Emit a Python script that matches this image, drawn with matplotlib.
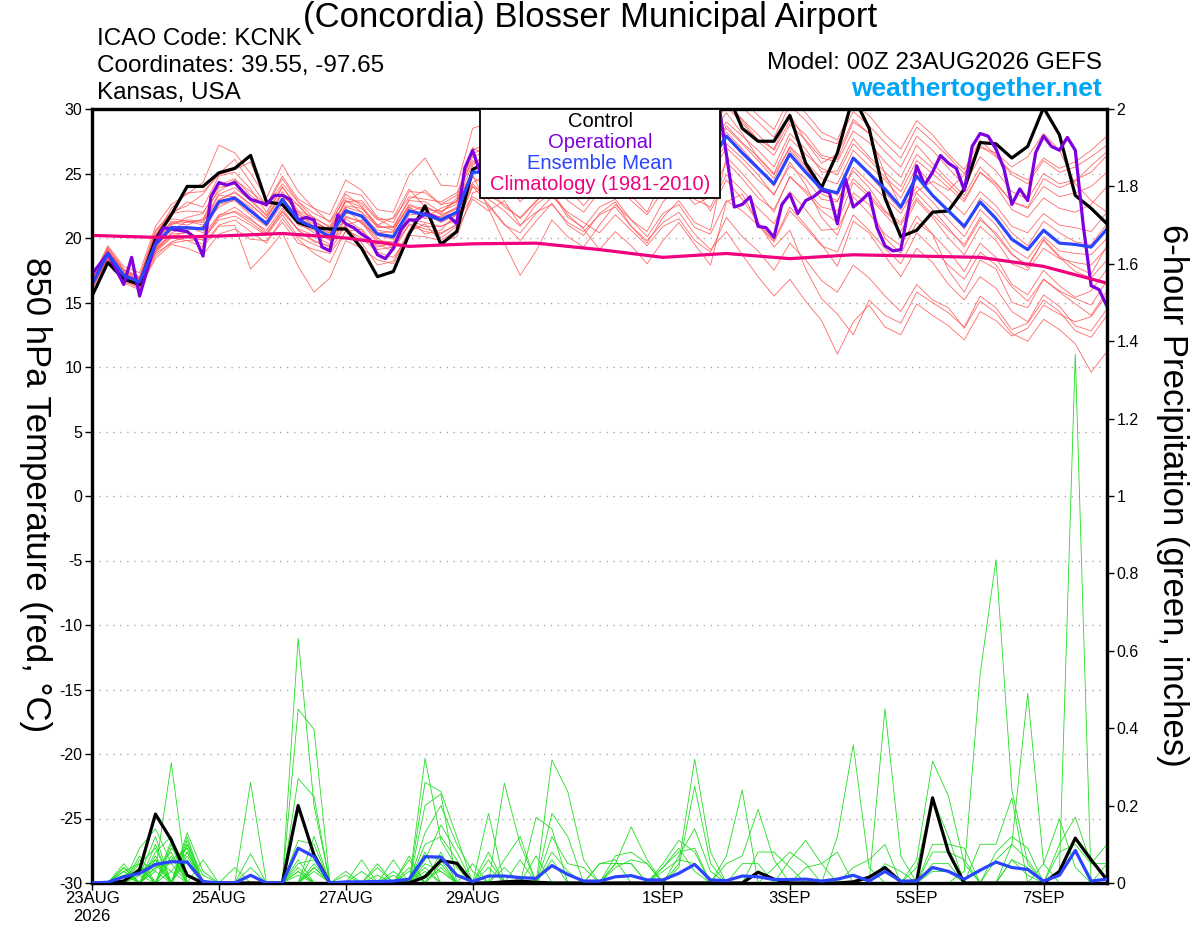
import matplotlib
matplotlib.use("Agg")
import matplotlib.pyplot as plt
from matplotlib.patches import Rectangle
import numpy as np

plt.rcParams['font.family'] = ['Liberation Sans', 'DejaVu Sans']
plt.rcParams['axes.unicode_minus'] = False

# ---- axis labels / ticks ----
tick_pos = [0, 8, 16, 24, 36, 44, 52, 60]
tick_lab = ["23AUG\n2026", "25AUG", "27AUG", "29AUG", "1SEP", "3SEP", "5SEP", "7SEP"]

# ---- 850 hPa temperature (6-hourly, 65 steps) ----
control_t = [15.5, 18.1, 16.8, 16.4, 19.9, 21.8, 24.0, 24.0, 25.05, 25.4, 26.4, 22.8, 22.6,
             21.2, 20.8, 20.7, 20.7, 19.2, 17.0, 17.4, 20.3, 22.5, 19.5, 20.5, 25.3,
             26.0, 27.2, 28.1, 27.5, 28.8, 29.6, 28.4, 27.9, 29.3, 30.5, 29.8, 28.9, 30.7, 31.5, 30.8,
             31.4, 28.5, 27.5, 27.5, 29.5, 25.8, 23.9, 26.6, 31.0, 28.5, 23.1, 20.1, 20.6, 22.0,
             22.1, 23.8, 27.4, 27.3, 26.2, 27.1, 30.1, 28.0, 23.3, 22.3, 21.1]
mean_t = [16.4, 18.8, 17.1, 16.6, 19.5, 20.8, 20.8, 20.7, 22.8, 23.1, 22.1, 21.1, 23.0,
          21.4, 20.8, 20.1, 22.1, 21.7, 20.3, 20.1, 22.1, 21.8, 21.4, 22.0, 25.1,
          25.1, 25.3, 24.6, 25.8, 26.4, 25.5, 25.0, 26.2, 26.8, 26.0, 25.4, 26.9, 27.5, 26.3, 25.9,
          27.9, 26.6, 25.4, 24.2, 26.5, 25.1, 23.8, 23.5, 26.2, 25.0, 23.8, 22.4, 24.8, 23.3,
          22.1, 20.9, 22.8, 21.5, 19.9, 19.1, 20.6, 19.6, 19.5, 19.3, 20.7]
# operational run is 3-hourly (129 steps)
oper_t = [17.2, 18.0, 18.8, 17.6, 16.4, 18.5, 15.5, 17.6, 19.6, 20.8,
          20.7, 20.6, 20.5, 20.0, 18.6, 23.2, 24.3, 24.1, 24.3, 23.6,
          23.0, 22.8, 22.6, 23.3, 23.3, 23.0, 21.4, 21.6, 21.4, 19.3,
          19.0, 21.8, 21.1, 20.8, 20.3, 19.9, 18.7, 18.4, 19.2, 20.7,
          21.4, 21.4, 21.9, 21.7, 21.4, 21.7, 21.1, 25.4, 26.8, 25.0,
          25.6, 26.3, 25.9, 26.8, 27.4, 26.5, 27.8, 28.3, 27.6, 28.9,
          28.1, 27.3, 28.0, 28.6, 27.9, 28.8, 29.4, 28.7, 29.1, 28.2,
          29.0, 29.8, 30.4, 29.6, 28.9, 29.3, 28.5, 29.1, 29.8, 30.5,
          26.5, 22.4, 22.6, 23.2, 20.9, 20.8, 20.05, 22.6, 23.4, 21.9,
          22.9, 23.2, 23.7, 23.5, 21.1, 24.6, 22.4, 22.9, 23.5, 20.8,
          19.4, 19.0, 19.1, 22.4, 25.6, 24.1, 25.1, 26.4, 25.8, 25.4,
          23.7, 27.1, 28.1, 27.9, 26.9, 25.4, 22.6, 23.8, 22.9, 26.6,
          27.9, 27.1, 26.8, 27.8, 26.8, 21.0, 16.3, 16.0, 14.7]
# climatology, one value per day
clim_days = [0, 4, 8, 12, 16, 20, 24, 28, 32, 36, 40, 44, 48, 52, 56, 60, 64]
clim_t = [20.2, 20.05, 20.15, 20.35, 20.0, 19.35, 19.55, 19.6, 19.1, 18.5, 18.8, 18.4,
          18.7, 18.6, 18.5, 17.8, 16.5]

t_m01 = [16.8, 19.2, 17.5, 16.9, 20.6, 22.0, 22.5, 23.4, 25.0, 26.1, 24.3,
         22.5, 24.6, 22.8, 21.5, 20.9, 23.4, 22.5, 21.0, 21.6, 23.8, 22.4, 21.9, 23.1,
         27.0, 26.2, 24.5, 22.8, 24.1, 25.7, 23.9, 22.5, 24.0, 25.1, 23.3, 22.0, 24.6, 25.0, 23.8, 22.1,
         24.5, 23.0, 21.2, 19.8, 22.4, 21.0, 19.5, 17.8, 21.3, 20.4, 18.6, 17.0, 19.2, 18.1, 16.4,
         15.2, 17.0, 16.1, 14.3, 13.5, 15.6, 14.7, 13.2, 12.8, 14.5]
t_m02 = [16.2, 18.5, 16.8, 16.3, 19.0, 20.1, 20.5, 19.8, 21.7, 22.4, 21.5,
         20.4, 22.1, 20.6, 19.7, 19.4, 21.5, 20.6, 19.1, 19.3, 21.0, 20.5, 20.3, 21.1,
         24.0, 22.6, 21.1, 19.8, 21.3, 22.7, 21.0, 20.2, 21.9, 22.8, 20.9, 19.6, 21.6, 22.9, 21.2, 20.6,
         26.3, 25.0, 23.6, 22.0, 24.8, 23.5, 22.1, 21.2, 24.3, 23.2, 21.8, 20.5, 22.9, 21.6, 20.0,
         18.7, 20.9, 19.8, 18.0, 17.5, 19.2, 18.4, 18.1, 17.9, 19.3]
t_m03 = [16.6, 19.0, 17.3, 16.7, 19.8, 21.2, 21.0, 21.5, 23.9, 24.2, 23.0,
         21.8, 23.9, 22.5, 21.3, 20.6, 22.8, 22.9, 21.5, 20.8, 22.9, 22.8, 22.0, 22.9,
         26.3, 26.8, 27.2, 26.0, 27.4, 28.3, 27.0, 26.5, 28.1, 29.0, 27.8, 27.1, 29.2, 30.4, 28.6, 28.0,
         30.5, 29.2, 28.0, 26.8, 29.1, 28.0, 26.4, 26.1, 29.0, 28.1, 26.7, 25.5, 27.9, 26.8, 25.4,
         24.1, 26.3, 25.2, 23.6, 23.0, 25.0, 24.2, 24.5, 25.1, 26.4]
t_m04 = [16.0, 18.4, 16.5, 16.0, 18.6, 19.7, 20.1, 19.5, 21.0, 21.4, 20.5,
         19.6, 21.5, 19.9, 18.8, 18.1, 20.6, 20.0, 18.9, 18.5, 20.2, 20.1, 19.8, 20.6,
         23.0, 22.1, 22.9, 21.0, 22.0, 22.6, 21.2, 20.5, 21.8, 22.4, 20.9, 19.8, 21.2, 22.0, 20.3, 19.1,
         20.5, 18.7, 17.0, 15.5, 16.8, 15.1, 13.6, 11.0, 13.5, 14.8, 13.1, 12.5, 14.9, 14.0, 13.2,
         12.1, 14.3, 13.6, 12.4, 13.0, 14.8, 14.1, 13.5, 13.9, 15.6]
t_m05 = [16.3, 18.6, 16.9, 16.2, 18.8, 19.6, 19.8, 19.3, 20.9, 21.0, 17.6,
         18.9, 20.4, 17.8, 15.8, 16.9, 19.8, 19.2, 18.3, 18.0, 20.5, 21.1, 19.7, 20.1,
         23.5, 23.9, 24.8, 23.5, 24.9, 26.1, 24.8, 24.3, 25.9, 26.6, 25.3, 24.5, 26.4, 27.1, 25.5, 24.9,
         27.0, 25.8, 24.5, 23.4, 25.6, 24.6, 23.0, 22.8, 25.5, 24.3, 23.1, 21.9, 24.0, 22.8, 21.4,
         20.1, 22.2, 21.0, 19.2, 18.4, 20.1, 19.0, 18.8, 18.7, 20.0]
t_m06 = [16.9, 19.4, 17.8, 17.3, 20.9, 22.6, 23.4, 24.3, 27.2, 26.6, 25.0,
         23.1, 25.7, 23.6, 22.3, 21.8, 24.5, 23.7, 22.2, 22.0, 24.9, 26.2, 24.1, 24.0,
         28.5, 28.9, 29.3, 28.2, 29.6, 30.8, 29.5, 28.9, 30.6, 31.2, 30.0, 29.3, 31.5, 32.0, 30.8, 29.9,
         31.6, 30.7, 29.5, 28.4, 30.9, 29.7, 28.2, 27.6, 30.4, 29.5, 28.0, 26.9, 29.1, 28.0, 26.5,
         25.3, 27.6, 26.4, 24.9, 24.2, 26.0, 25.1, 25.5, 26.3, 27.2]
t_m07 = [16.5, 18.9, 17.0, 16.5, 19.3, 20.6, 21.3, 21.0, 22.9, 23.6, 22.6,
         21.5, 23.4, 21.9, 20.9, 20.4, 22.3, 21.1, 20.2, 19.9, 22.3, 21.5, 21.7, 22.4,
         24.9, 22.3, 19.6, 17.1, 19.0, 21.4, 20.1, 19.3, 21.0, 22.6, 21.4, 20.5, 22.8, 24.0, 22.6, 23.2,
         25.9, 24.6, 23.1, 22.2, 24.7, 23.7, 22.4, 22.1, 24.6, 23.4, 22.0, 21.0, 23.1, 21.8, 20.6,
         19.5, 21.6, 20.2, 18.7, 17.9, 19.8, 18.5, 17.4, 16.9, 18.3]
t_m08 = [16.1, 18.3, 16.9, 16.5, 20.1, 22.3, 23.5, 23.6, 24.9, 25.3, 25.9,
         22.9, 22.7, 21.6, 20.9, 20.6, 20.9, 19.6, 17.9, 18.2, 20.6, 22.3, 20.0, 20.9,
         25.6, 26.8, 27.6, 26.4, 28.0, 29.1, 27.9, 27.4, 28.9, 29.8, 28.6, 28.0, 30.2, 31.0, 29.5, 29.2,
         30.7, 29.1, 27.6, 26.9, 29.6, 27.5, 25.8, 26.5, 29.2, 28.1, 25.0, 22.4, 23.6, 24.4, 23.7,
         24.9, 27.0, 26.6, 25.5, 26.3, 28.1, 26.8, 24.2, 22.9, 22.0]
t_m09 = [16.7, 18.8, 17.2, 16.8, 19.2, 20.2, 20.0, 20.2, 21.8, 22.0, 21.2,
         20.3, 22.0, 20.7, 20.2, 19.5, 21.0, 21.4, 20.0, 19.2, 21.4, 20.9, 20.9, 21.4,
         23.2, 22.5, 21.0, 20.4, 21.9, 23.2, 22.0, 21.2, 20.4, 21.8, 20.6, 19.4, 20.9, 21.5, 19.8, 18.9,
         21.6, 20.1, 19.0, 17.5, 19.6, 18.3, 16.7, 15.8, 17.9, 16.9, 15.5, 14.3, 16.4, 15.2, 14.6,
         13.0, 15.1, 14.2, 12.6, 12.0, 13.7, 12.9, 11.8, 9.6, 11.2]
t_m10 = [16.4, 18.7, 17.0, 16.4, 19.4, 21.0, 21.6, 21.9, 24.1, 24.6, 23.3,
         22.4, 24.2, 22.8, 21.9, 21.3, 23.6, 23.3, 21.6, 21.2, 23.6, 23.5, 22.6, 23.3,
         26.0, 25.4, 25.0, 24.7, 26.3, 27.0, 25.6, 25.2, 26.8, 27.8, 26.9, 26.1, 28.0, 28.9, 27.3, 26.6,
         28.7, 27.4, 26.3, 25.0, 27.7, 26.5, 25.4, 24.9, 27.3, 26.1, 24.7, 23.6, 26.0, 25.0, 23.9,
         22.8, 25.1, 24.2, 22.8, 22.4, 24.6, 23.9, 24.4, 25.6, 26.7]
t_m11 = [16.2, 18.6, 16.7, 16.1, 18.4, 19.5, 19.2, 18.7, 20.3, 20.7, 19.9,
         19.8, 21.2, 19.6, 19.1, 18.8, 20.5, 20.7, 19.3, 19.6, 21.5, 20.3, 20.6, 21.9,
         24.3, 24.9, 25.6, 24.6, 25.8, 26.5, 25.2, 24.6, 26.3, 27.0, 25.7, 24.9, 26.9, 27.6, 26.2, 25.4,
         27.3, 26.2, 24.9, 23.3, 25.9, 24.1, 21.6, 20.2, 23.5, 22.6, 20.0, 18.8, 21.2, 20.3, 17.5,
         15.8, 18.3, 17.6, 15.0, 14.6, 16.8, 15.9, 15.3, 14.8, 16.7]
t_m12 = [16.6, 19.1, 17.4, 16.9, 20.2, 21.5, 21.3, 21.2, 23.3, 23.2, 22.4,
         21.0, 22.9, 21.2, 20.4, 19.9, 21.9, 21.8, 20.6, 20.4, 22.0, 22.5, 21.8, 22.3,
         25.3, 25.8, 26.1, 25.2, 26.6, 27.1, 26.0, 25.6, 27.0, 27.5, 26.6, 26.0, 27.4, 28.3, 27.1, 26.5,
         28.5, 27.3, 26.0, 24.6, 27.1, 25.9, 24.6, 24.2, 26.8, 25.6, 24.5, 23.1, 25.5, 24.1, 23.0,
         21.8, 23.6, 22.5, 20.9, 20.4, 21.9, 21.0, 20.8, 20.5, 22.0]
t_m13 = [16.8, 19.3, 17.6, 17.0, 20.5, 21.8, 22.8, 22.4, 24.8, 25.1, 23.8,
         22.0, 24.0, 22.1, 21.6, 20.8, 22.9, 22.0, 20.9, 20.8, 22.4, 21.6, 22.3, 22.8,
         26.8, 27.4, 27.9, 27.1, 28.4, 29.3, 28.1, 27.5, 29.0, 29.7, 28.3, 27.8, 29.8, 30.6, 29.0, 28.5,
         30.2, 28.9, 27.5, 26.4, 28.8, 27.6, 26.2, 25.9, 28.3, 27.4, 25.9, 24.7, 27.2, 25.8, 24.5,
         23.3, 25.5, 24.3, 22.8, 22.3, 24.0, 23.2, 23.5, 24.0, 25.1]
t_m14 = [16.3, 18.8, 17.1, 16.6, 19.1, 20.4, 20.9, 20.4, 22.6, 22.9, 21.8,
         20.9, 22.6, 21.0, 20.6, 19.8, 21.6, 21.3, 19.8, 19.7, 21.8, 21.9, 21.2, 21.8,
         24.7, 23.9, 22.4, 21.6, 22.9, 23.6, 21.8, 20.7, 19.1, 20.5, 19.4, 18.0, 19.8, 21.2, 19.5, 17.9,
         22.8, 23.4, 21.2, 19.3, 20.6, 17.6, 15.3, 14.1, 12.5, 15.2, 14.0, 13.4, 15.8, 15.0, 14.2,
         13.1, 15.5, 14.6, 12.9, 13.4, 15.2, 14.3, 12.8, 12.3, 14.0]
t_m15 = [16.5, 18.9, 17.3, 16.8, 19.7, 21.3, 21.2, 21.4, 23.4, 23.9, 22.9,
         21.7, 23.4, 22.0, 21.3, 20.5, 22.5, 22.3, 21.0, 20.6, 22.6, 22.2, 22.1, 22.6,
         25.8, 26.3, 26.4, 25.6, 27.0, 27.7, 26.6, 26.0, 27.4, 28.0, 26.9, 26.3, 28.4, 29.0, 27.6, 27.0,
         29.0, 27.9, 26.8, 25.5, 28.1, 26.9, 25.1, 25.2, 27.7, 26.3, 25.1, 24.0, 26.5, 25.4, 24.2,
         23.0, 25.1, 24.0, 22.2, 21.6, 23.1, 22.3, 22.0, 22.6, 24.0]
t_m16 = [16.1, 18.4, 16.6, 16.2, 18.9, 20.0, 19.8, 19.9, 21.4, 21.7, 21.0,
         20.2, 21.8, 20.1, 19.5, 19.0, 21.0, 20.4, 19.5, 19.0, 21.1, 20.7, 20.4, 21.0,
         24.0, 23.3, 22.6, 21.5, 22.8, 24.4, 22.9, 22.0, 23.6, 24.5, 22.9, 21.8, 23.7, 24.6, 23.0, 22.4,
         24.9, 23.7, 22.3, 21.1, 23.6, 22.2, 20.6, 20.7, 23.2, 21.9, 20.3, 19.4, 21.7, 20.3, 19.0,
         17.4, 19.6, 18.5, 16.4, 15.6, 17.5, 16.3, 15.4, 15.9, 17.6]
t_m17 = [16.7, 19.0, 17.5, 16.9, 20.3, 21.9, 22.1, 22.0, 23.6, 24.5, 23.6,
         22.6, 24.8, 23.0, 22.3, 21.2, 23.1, 22.7, 21.4, 21.5, 23.2, 23.0, 22.8, 23.5,
         26.5, 27.2, 27.8, 26.9, 28.1, 29.0, 27.6, 27.2, 28.6, 29.5, 28.1, 27.4, 29.5, 30.3, 28.8, 28.1,
         29.7, 28.1, 26.2, 24.9, 27.0, 25.6, 23.4, 22.9, 25.2, 23.9, 22.1, 21.2, 23.5, 22.2, 20.8,
         19.3, 21.4, 20.4, 18.8, 17.7, 19.9, 18.6, 17.8, 17.2, 19.4]
t_m18 = [16.4, 18.7, 16.9, 16.4, 19.0, 20.3, 20.4, 20.0, 21.6, 22.1, 21.4,
         20.6, 22.3, 20.6, 19.8, 19.3, 21.7, 21.2, 19.6, 19.5, 21.5, 21.2, 20.9, 21.5,
         24.2, 23.0, 22.1, 20.9, 22.6, 23.5, 21.6, 20.8, 22.4, 23.0, 21.4, 20.1, 21.9, 22.6, 20.8, 20.3,
         22.9, 22.1, 21.0, 19.7, 22.1, 20.8, 19.4, 18.9, 21.8, 20.6, 19.2, 18.0, 20.4, 19.2, 17.9,
         16.8, 18.9, 17.9, 16.2, 15.1, 16.8, 15.8, 14.9, 14.0, 15.9]
t_m19 = [16.6, 18.9, 17.2, 16.7, 19.6, 21.1, 21.4, 21.3, 23.0, 23.5, 22.6,
         21.5, 23.6, 21.8, 21.1, 20.3, 22.4, 22.0, 20.4, 20.5, 22.5, 22.1, 21.6, 22.3,
         25.4, 26.0, 26.8, 26.2, 27.6, 28.5, 27.4, 26.9, 28.4, 29.2, 28.0, 27.5, 29.4, 30.5, 29.1, 28.9,
         31.2, 30.1, 29.0, 27.8, 30.3, 29.1, 27.7, 27.3, 29.8, 28.7, 27.4, 26.2, 28.6, 27.5, 26.3,
         25.0, 27.2, 26.3, 25.1, 24.5, 26.2, 25.4, 25.9, 26.8, 27.9]
t_m20 = [16.5, 19.0, 17.1, 16.6, 19.2, 20.9, 20.6, 20.9, 22.4, 23.0, 22.0,
         21.3, 23.1, 22.6, 21.2, 20.6, 22.9, 22.4, 20.8, 20.9, 23.0, 23.7, 22.6, 22.8,
         25.1, 25.0, 25.9, 24.8, 26.1, 26.9, 25.4, 24.8, 26.4, 27.2, 25.8, 25.0, 27.1, 27.9, 26.4, 25.9,
         28.2, 26.9, 25.5, 24.0, 26.8, 25.4, 24.0, 23.3, 26.1, 24.9, 23.5, 22.2, 24.7, 23.3, 22.1,
         20.7, 23.1, 22.0, 20.4, 19.4, 21.3, 20.4, 19.7, 19.5, 21.1]
members_t = [t_m01, t_m02, t_m03, t_m04, t_m05, t_m06, t_m07, t_m08, t_m09, t_m10,
             t_m11, t_m12, t_m13, t_m14, t_m15, t_m16, t_m17, t_m18, t_m19, t_m20]

# ---- 6-hour precipitation (inches) ----
control_p = [0, 0, 0.005, 0.034, 0.178, 0.111, 0.02, 0, 0, 0, 0, 0, 0, 0.2, 0.072, 0,
             0, 0, 0, 0, 0, 0.016, 0.058, 0.051, 0, 0, 0.003, 0.005, 0.002, 0, 0, 0,
             0, 0, 0, 0, 0, 0, 0, 0, 0, 0, 0.028, 0.01, 0, 0, 0, 0, 0.003, 0.015, 0.04,
             0.003, 0.005, 0.22, 0.08, 0, 0, 0, 0, 0, 0, 0.03, 0.116, 0.06, 0.008]
mean_p = [0, 0.002, 0.016, 0.025, 0.048, 0.055, 0.054, 0.004, 0, 0, 0.02, 0, 0, 0.09,
          0.068, 0, 0.003, 0.003, 0.004, 0.005, 0.01, 0.068, 0.067, 0.02, 0.004, 0.018,
          0.018, 0.014, 0.012, 0.045, 0.022, 0.005, 0.005, 0.016, 0.019, 0.008, 0.008,
          0.025, 0.048, 0.008, 0.006, 0.018, 0.016, 0.009, 0.009, 0.01, 0.005, 0.01,
          0.02, 0.005, 0.03, 0.005, 0.005, 0.04, 0.03, 0.01, 0.033, 0.054, 0.04, 0.035,
          0.005, 0.02, 0.084, 0.005, 0.01]
# members: step index -> precip (other steps are dry)
p_m01 = {2: .03, 3: .05, 4: .09, 6: .06, 13: .06, 19: .03, 21: .08, 25: .04, 36: .05,
         37: .11, 38: .08, 52: .04, 53: .22, 54: .12}
p_m02 = {3: .09, 4: .14, 5: .05, 10: .26, 14: .05, 20: .04, 22: .08, 29: .318, 30: .236,
         31: .06, 41: .05, 42: .05, 58: .06, 59: .02}
p_m03 = {2: .02, 3: .03, 4: .05, 6: .13, 7: .03, 13: .632, 14: .2, 21: .03, 26: .04,
         33: .05, 34: .05, 45: .04, 46: .05, 47: .08, 53: .03, 54: .03, 64: .05}
p_m04 = {3: .06, 4: .03, 5: .31, 14: .03, 16: .03, 21: .322, 22: .11, 23: .04, 37: .05,
         38: .32, 39: .08, 56: .1, 57: .1, 58: .22}
p_m05 = {2: .04, 4: .08, 5: .12, 10: .076, 13: .02, 20: .06, 27: .06, 33: .07, 34: .08,
         35: .05, 50: .05, 51: .03, 60: .05, 61: .165, 62: .04}
p_m06 = {3: .02, 4: .12, 6: .1, 7: .02, 17: .06, 21: .07, 22: .06, 25: .18, 29: .18,
         30: .12, 40: .07, 41: .24, 53: .08, 54: .08, 55: .06}
p_m07 = {2: .03, 4: .04, 5: .08, 9: .04, 13: .449, 14: .397, 29: .06, 44: .06, 45: .11,
         46: .05, 58: .06, 59: .04}
p_m08 = {3: .04, 5: .06, 6: .09, 14: .04, 19: .02, 21: .26, 22: .236, 23: .12, 36: .04,
         37: .09, 38: .03, 61: .03, 62: 1.367}
p_m09 = {2: .05, 4: .07, 6: .12, 13: .03, 18: .04, 21: .04, 26: .258, 27: .1, 50: .45,
         51: .07}
p_m10 = {3: .07, 5: .1, 7: .06, 14: .12, 20: .07, 22: .05, 32: .05, 33: .06, 37: .04,
         38: .25, 39: .05, 57: .08, 58: .12, 59: .09}
p_m11 = {3: .03, 4: .06, 5: .03, 10: .04, 16: .02, 21: .2, 22: .23, 24: .05, 33: .04,
         34: .06, 35: .05, 53: .1, 54: .1, 55: .09}
p_m12 = {2: .02, 4: .1, 6: .08, 13: .27, 14: .223, 25: .08, 28: .17, 29: .14, 42: .08,
         43: .08, 44: .04, 61: .1, 62: .17, 63: .05, 64: .05}
p_m13 = {3: .05, 5: .09, 6: .05, 18: .02, 21: .06, 22: .15, 23: .08, 36: .04, 37: .08,
         38: .09, 55: .03, 56: .54, 57: .835, 58: .24, 59: .05}
p_m14 = {2: .03, 4: .05, 6: .11, 13: .11, 14: .1, 25: .06, 32: .05, 33: .05, 34: .05,
         47: .12, 48: .357, 49: .04}
p_m15 = {3: .02, 5: .07, 10: .02, 17: .03, 21: .13, 22: .2, 23: .1, 24: .03, 40: .05,
         41: .07, 42: .19, 43: .06}
p_m16 = {2: .04, 4: .03, 6: .1, 13: .05, 14: .06, 22: .04, 29: .12, 30: .05, 31: .04,
         48: .04, 49: .06, 50: .1, 58: .1, 59: .49, 60: .05}
p_m17 = {3: .04, 5: .11, 14: .04, 19: .06, 21: .05, 22: .03, 26: .06, 27: .12, 37: .07,
         38: .14, 39: .03, 57: .06, 58: .1, 59: .06}
p_m18 = {2: .02, 4: .06, 6: .07, 13: .04, 20: .03, 33: .05, 34: .145, 35: .06, 53: .05,
         54: .05}
p_m19 = {4: .04, 5: .05, 6: .09, 14: .08, 21: .1, 22: .12, 23: .06, 29: .08, 30: .03,
         43: .04, 44: .08, 45: .05, 61: .08, 62: .1, 63: .05, 64: .1}
p_m20 = {2: .04, 5: .03, 6: .08, 13: .03, 18: .05, 21: .02, 22: .03, 28: .07, 36: .03,
         37: .06, 38: .05, 52: .06, 53: .315, 54: .225, 55: .05}
members_p = [p_m01, p_m02, p_m03, p_m04, p_m05, p_m06, p_m07, p_m08, p_m09, p_m10,
             p_m11, p_m12, p_m13, p_m14, p_m15, p_m16, p_m17, p_m18, p_m19, p_m20]

n_steps = len(mean_t)
x = np.arange(n_steps)
x_oper = np.arange(len(oper_t)) * 0.5

C_OPER = '#7f00df'
C_MEAN = '#2a44ff'
C_CLIM = '#f0007f'

fig = plt.figure(figsize=(12, 9.27), dpi=100)
ax = fig.add_axes([92 / 1200, 44 / 927, 1015 / 1200, 774 / 927])
ax2 = ax.twinx()

# temperature
for m in members_t:
    ax.plot(x, m, color='#ff5050', lw=0.6, alpha=0.85, zorder=2)
ax.plot(x, control_t, color='black', lw=2.3, zorder=4)
ax.plot(x_oper, oper_t, color=C_OPER, lw=2.3, zorder=5)
ax.plot(x, mean_t, color=C_MEAN, lw=2.3, zorder=6)
ax.plot(clim_days, clim_t, color=C_CLIM, lw=2.3, zorder=7)

ax.set_xlim(0, n_steps - 1)
ax.set_ylim(-30, 30)
ax.set_yticks(np.arange(-30, 31, 5))
for yv in range(-25, 30, 5):
    ax.axhline(yv, color='#aaaaaa', lw=1.0, ls=(0, (1, 4)), zorder=1)
ax.set_xticks(tick_pos)
ax.set_xticklabels(tick_lab, fontsize=12)
ax.tick_params(axis='y', labelsize=11.5, length=5, width=1, direction='out', pad=2)
ax.tick_params(axis='x', length=5, width=1, direction='out', pad=1)

# precipitation
for m in members_p:
    vals = [m.get(k, 0.0) for k in range(n_steps)]
    ax2.plot(x, vals, color='#22dd22', lw=0.6, zorder=2)
ax2.plot(x, control_p, color='black', lw=2.3, zorder=4)
ax2.plot(x, mean_p, color=C_MEAN, lw=2.3, zorder=5)
ax2.set_ylim(0, 2)
ax2.set_yticks(np.arange(0, 2.01, 0.2))
ax2.set_yticklabels(["0", "0.2", "0.4", "0.6", "0.8", "1", "1.2", "1.4", "1.6", "1.8", "2"])
ax2.tick_params(axis='y', labelsize=11.5, length=5, width=1, direction='out', pad=2)

for a in (ax, ax2):
    for s in a.spines.values():
        s.set_linewidth(2.3)

# axis titles
fig.text(35 / 1200, 1 - 495 / 927, "850 hPa Temperature (red, \u00b0C)", fontsize=25,
         rotation=270, ha='center', va='center')
fig.text(1172 / 1200, 1 - 495 / 927, "6-hour Precipitation (green, inches)", fontsize=25,
         rotation=270, ha='center', va='center')

# legend box
ax2.add_patch(Rectangle((388 / 1015, 685 / 774), 240 / 1015, 89 / 774,
                        transform=ax2.transAxes, facecolor='white', edgecolor='black',
                        lw=1.3, zorder=20, clip_on=False))
leg_items = [("Control", 'black'), ("Operational", C_OPER),
             ("Ensemble Mean", C_MEAN), ("Climatology (1981-2010)", C_CLIM)]
for k, (txt, col) in enumerate(leg_items):
    ax2.text(508 / 1015, (762 - 21.3 * k) / 774, txt, color=col, fontsize=14.5,
             ha='center', va='center', transform=ax2.transAxes, zorder=21)

# header texts
fig.text(590 / 1200, 1 - 18 / 927, "(Concordia) Blosser Municipal Airport",
         fontsize=25, ha='center', va='center')
fig.text(97 / 1200, 1 - 39 / 927, "ICAO Code: KCNK", fontsize=17.5, ha='left', va='center')
fig.text(97 / 1200, 1 - 66 / 927, "Coordinates: 39.55, -97.65", fontsize=17.5,
         ha='left', va='center')
fig.text(97 / 1200, 1 - 93 / 927, "Kansas, USA", fontsize=17.5, ha='left', va='center')
fig.text(1102 / 1200, 1 - 63 / 927, "Model: 00Z 23AUG2026 GEFS", fontsize=17.5,
         ha='right', va='center')
fig.text(1102 / 1200, 1 - 89 / 927, "weathertogether.net", fontsize=19, fontweight='bold',
         color='#00a6f5', ha='right', va='center')

fig.savefig("out.png", dpi=100)
